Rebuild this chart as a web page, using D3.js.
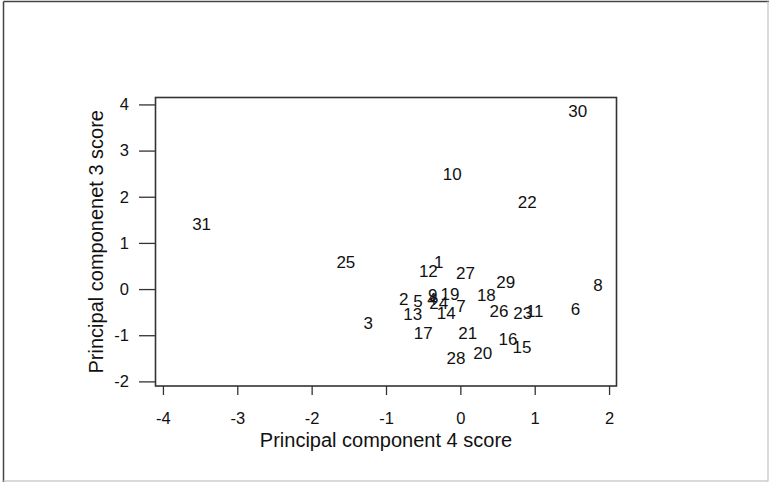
<!DOCTYPE html>
<html>
<head>
<meta charset="utf-8">
<script src="https://cdn.jsdelivr.net/npm/d3@7"></script>
<style>
  body { margin: 0; background: #fff; }
  svg { display: block; font-family: "Liberation Sans", Arial, sans-serif; }
</style>
</head>
<body>
<svg id="chart"></svg>
<script>
// observation labels and their PC4 / PC3 scores
const ids = [1, 2, 3, 4, 5, 6, 7, 8, 9, 10, 11, 12, 13, 14, 15, 16,
             17, 18, 19, 20, 21, 22, 23, 24, 25, 26, 27, 28, 29, 30, 31];
const pc4 = [-0.29, -0.76, -1.24, -0.38, -0.57, 1.55, 0.01, 1.85, -0.37, -0.11, 1.00, -0.43, -0.64, -0.19, 0.83, 0.64,
             -0.50, 0.35, -0.14, 0.30, 0.10, 0.90, 0.84, -0.29, -1.54, 0.52, 0.07, -0.06, 0.61, 1.58, -3.48];
const pc3 = [0.59, -0.22, -0.73, -0.22, -0.26, -0.42, -0.36, 0.10, -0.13, 2.49, -0.47, 0.40, -0.53, -0.51, -1.26, -1.08,
             -0.95, -0.12, -0.11, -1.39, -0.95, 1.88, -0.51, -0.31, 0.59, -0.48, 0.36, -1.49, 0.16, 3.86, 1.42];
const xTicks = [-4, -3, -2, -1, 0, 1, 2];
const yTicks = [-2, -1, 0, 1, 2, 3, 4];

const W = 769, H = 482;
const box = { left: 155.5, right: 616.5, top: 97.5, bottom: 386 };

const svg = d3.select('#chart').attr('width', W).attr('height', H);

// outer frame
svg.append('line').attr('x1', 3.5).attr('x2', 3.5).attr('y1', 1.5).attr('y2', H)
  .attr('stroke', '#444').attr('stroke-width', 1.5);
svg.append('line').attr('x1', 3.5).attr('x2', W).attr('y1', 1.5).attr('y2', 1.5)
  .attr('stroke', '#444').attr('stroke-width', 1.5);
svg.append('line').attr('x1', 768).attr('x2', 768).attr('y1', 1.5).attr('y2', 481.5)
  .attr('stroke', '#ccc').attr('stroke-width', 1.5);
svg.append('line').attr('x1', 3.5).attr('x2', 768).attr('y1', 481).attr('y2', 481)
  .attr('stroke', '#ccc').attr('stroke-width', 1.5);

const x = d3.scaleLinear().domain([-4.1, 2.1]).range([box.left, box.right]);
const y = d3.scaleLinear().domain([-2.1, 4.15]).range([box.bottom, box.top]);

// R style labels use a plain hyphen
const fmt = d => String(d);

// x axis
const xAxis = svg.append('g')
  .attr('transform', 'translate(0,' + box.bottom + ')')
  .call(d3.axisBottom(x).tickValues(xTicks).tickSize(9).tickPadding(17).tickFormat(fmt));
xAxis.select('.domain').remove();
xAxis.selectAll('line').attr('stroke', '#333').attr('stroke-width', 1.3);
xAxis.selectAll('text').attr('font-size', 16.5).attr('fill', '#111')
  .attr('font-family', '"Liberation Sans", Arial, sans-serif');

// y axis
const yAxis = svg.append('g')
  .attr('transform', 'translate(' + box.left + ',0)')
  .call(d3.axisLeft(y).tickValues(yTicks).tickSize(16.5).tickPadding(10).tickFormat(fmt));
yAxis.select('.domain').remove();
yAxis.selectAll('line').attr('stroke', '#333').attr('stroke-width', 1.3);
yAxis.selectAll('text').attr('font-size', 16.5).attr('fill', '#111')
  .attr('font-family', '"Liberation Sans", Arial, sans-serif');

// plot box
svg.append('rect')
  .attr('x', box.left).attr('y', box.top)
  .attr('width', box.right - box.left).attr('height', box.bottom - box.top)
  .attr('fill', 'none').attr('stroke', '#333').attr('stroke-width', 1.6);

// point labels
svg.append('g').selectAll('text')
  .data(ids)
  .enter()
  .append('text')
  .attr('x', (d, i) => x(pc4[i]))
  .attr('y', (d, i) => y(pc3[i]))
  .attr('dy', '0.36em')
  .attr('text-anchor', 'middle')
  .attr('font-size', 17)
  .attr('fill', '#111')
  .text(d => d);

// axis titles
svg.append('text')
  .attr('x', (box.left + box.right) / 2).attr('y', 446.5)
  .attr('text-anchor', 'middle').attr('font-size', 20).attr('fill', '#111')
  .text('Principal component 4 score');
svg.append('text')
  .attr('transform', 'translate(103,' + (box.top + box.bottom) / 2 + ') rotate(-90)')
  .attr('text-anchor', 'middle').attr('font-size', 20).attr('fill', '#111')
  .text('Principal componenet 3 score');
</script>
</body>
</html>
